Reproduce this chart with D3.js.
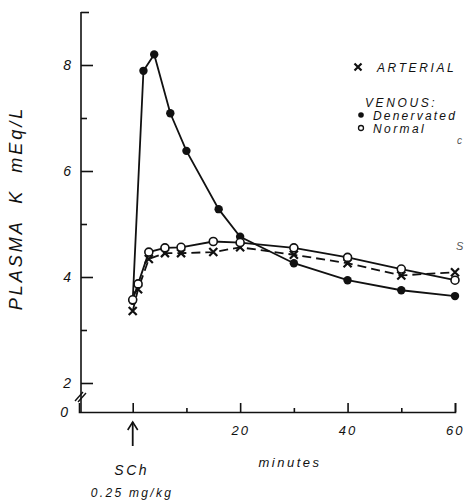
<!DOCTYPE html>
<html lang="en">
<head>
<meta charset="utf-8">
<title>Plasma K after SCh</title>
<script src="https://cdn.jsdelivr.net/npm/d3@7"></script>
<style>
  body { margin: 0; background: #fff; }
  svg text { font-family: "Liberation Sans", Arial, sans-serif; font-style: italic; fill: #111; white-space: pre; }
  .axis path, .axis line { stroke: #111; stroke-width: 1.6; }
</style>
</head>
<body>
<script>
// time (minutes) and plasma K (mEq/L)
var denervatedTime = [0, 2, 4, 7, 10, 16, 20, 30, 40, 50, 60]
var denervatedK    = [3.55, 7.89, 8.2, 7.09, 6.38, 5.28, 4.76, 4.26, 3.94, 3.75, 3.64]

var normalTime = [0, 1, 3, 6, 9, 15, 20, 30, 40, 50, 60]
var normalK    = [3.57, 3.87, 4.47, 4.55, 4.56, 4.67, 4.65, 4.55, 4.37, 4.15, 3.94]

var arterialTime = [0, 1, 3, 6, 9, 15, 20, 30, 40, 50, 60]
var arterialK    = [3.36, 3.77, 4.34, 4.45, 4.45, 4.47, 4.56, 4.42, 4.26, 4.03, 4.09]

var xTicks = [0, 10, 20, 30, 40, 50, 60]
var xLabels = [20, 40, 60]
var yTicks = [2, 3, 4, 5, 6, 7, 8, 9]
var yLabels = [2, 4, 6, 8]

var w = 465, h = 501
var svg = d3.select("body").append("svg").attr("width", w).attr("height", h)

// x starts at -10 so the axis corner sits left of the injection time
var x = d3.scaleLinear().domain([-10, 60]).range([79, 455])
// broken y axis: 0 -> 2 squeezed, 2 -> 9 linear
var y = d3.scaleLinear().domain([0, 2, 9]).range([412, 383, 12])

// x axis, ticks pointing up
var xAxis = svg.append("g").attr("class", "axis")
  .attr("transform", "translate(0," + y(0) + ")")
  .call(d3.axisBottom(x).tickValues(xTicks).tickSizeOuter(0).tickSize(-9).tickPadding(14)
    .tickFormat(function (d) { return xLabels.indexOf(d) >= 0 ? d : "" }))
xAxis.selectAll(".tick line").attr("y2", function (d) { return (d % 20 == 0) ? -9 : -4 })
xAxis.selectAll("text").style("font-size", "13px").style("letter-spacing", "2px")
xAxis.selectAll("text").filter(function (d) { return d == 60 }).attr("text-anchor", "end").attr("dx", "9")

// y axis, ticks pointing right
var yAxis = svg.append("g").attr("class", "axis")
  .attr("transform", "translate(81,0)")
  .call(d3.axisLeft(y).tickValues(yTicks).tickSizeOuter(0).tickSize(-12).tickPadding(10)
    .tickFormat(function (d) { return yLabels.indexOf(d) >= 0 ? d : "" }))
yAxis.selectAll(".tick line").attr("x2", function (d) {
  if (d == 9) return 8
  return (d % 2 == 0) ? 12 : 6
})
yAxis.selectAll("text").style("font-size", "14px")
yAxis.select(".domain").attr("d", "M0," + y(9) + "V" + y(0))

// "0" label and axis break marks
svg.append("text").attr("x", 68).attr("y", y(0) + 5).attr("text-anchor", "end")
  .style("font-size", "14px").text("0")
for (var k = 0; k < 2; k++) {
  svg.append("line")
    .attr("x1", 75 + k * 3).attr("y1", 401 + k)
    .attr("x2", 83 + k * 3).attr("y2", 392 + k)
    .attr("stroke", "#111").attr("stroke-width", 1.4)
}

// series
function pts(t, v) { return t.map(function (d, i) { return [d, v[i]] }) }
var line = d3.line().x(function (d) { return x(d[0]) }).y(function (d) { return y(d[1]) })

svg.append("path").datum(pts(arterialTime, arterialK)).attr("d", line)
  .attr("fill", "none").attr("stroke", "#111").attr("stroke-width", 1.8)
  .attr("stroke-dasharray", "9,5")
svg.append("path").datum(pts(denervatedTime, denervatedK)).attr("d", line)
  .attr("fill", "none").attr("stroke", "#111").attr("stroke-width", 1.8)
svg.append("path").datum(pts(normalTime, normalK)).attr("d", line)
  .attr("fill", "none").attr("stroke", "#111").attr("stroke-width", 1.8)

var cross = "M-4,-4L4,4M-4,4L4,-4"

svg.selectAll("path.art").data(pts(arterialTime, arterialK)).enter().append("path")
  .attr("class", "art").attr("d", cross)
  .attr("transform", function (d) { return "translate(" + x(d[0]) + "," + y(d[1]) + ")" })
  .attr("stroke", "#111").attr("stroke-width", 2.2)

svg.selectAll("circle.den").data(pts(denervatedTime, denervatedK)).enter().append("circle")
  .attr("class", "den").attr("cx", function (d) { return x(d[0]) })
  .attr("cy", function (d) { return y(d[1]) }).attr("r", 4.2).attr("fill", "#111")

svg.selectAll("circle.nor").data(pts(normalTime, normalK)).enter().append("circle")
  .attr("class", "nor").attr("cx", function (d) { return x(d[0]) })
  .attr("cy", function (d) { return y(d[1]) }).attr("r", 4)
  .attr("fill", "#fff").attr("stroke", "#111").attr("stroke-width", 1.6)

// legend
svg.append("path").attr("d", "M-3.5,-3.5L3.5,3.5M-3.5,3.5L3.5,-3.5")
  .attr("transform", "translate(358,67)").attr("stroke", "#111").attr("stroke-width", 2.2)
svg.append("text").attr("x", 377).attr("y", 72).style("font-size", "12px")
  .style("letter-spacing", "2.6px").text("ARTERIAL")
svg.append("text").attr("x", 365).attr("y", 107).style("font-size", "12px")
  .style("letter-spacing", "2.6px").text("VENOUS:")
svg.append("circle").attr("cx", 361).attr("cy", 115).attr("r", 2.8).attr("fill", "#111")
svg.append("text").attr("x", 373).attr("y", 120).style("font-size", "12px")
  .style("letter-spacing", "2.2px").text("Denervated")
svg.append("circle").attr("cx", 361).attr("cy", 128).attr("r", 2.5)
  .attr("fill", "#fff").attr("stroke", "#111").attr("stroke-width", 1.3)
svg.append("text").attr("x", 373).attr("y", 133).style("font-size", "12px")
  .style("letter-spacing", "2.4px").text("Normal")

// axis titles and injection marker
svg.append("text")
  .attr("transform", "translate(22,208) rotate(-90)")
  .attr("text-anchor", "middle").style("font-size", "18px").style("letter-spacing", "3px")
  .text("PLASMA  K  mEq/L")

svg.append("text").attr("x", 290).attr("y", 467).attr("text-anchor", "middle")
  .style("font-size", "13px").style("letter-spacing", "2.5px").text("minutes")

var ax = x(0)
svg.append("line").attr("x1", ax).attr("y1", 446).attr("x2", ax).attr("y2", 422)
  .attr("stroke", "#111").attr("stroke-width", 1.8)
svg.append("path").attr("d", "M" + (ax - 5) + ",430L" + ax + ",422L" + (ax + 5) + ",430")
  .attr("fill", "none").attr("stroke", "#111").attr("stroke-width", 1.6)
svg.append("text").attr("x", ax - 1).attr("y", 475).attr("text-anchor", "middle")
  .style("font-size", "14px").style("letter-spacing", "2.5px").text("SCh")
svg.append("text").attr("x", 132).attr("y", 497).attr("text-anchor", "middle")
  .style("font-size", "12px").style("letter-spacing", "2.3px").text("0.25 mg/kg")

// scraps from the facing page at the right edge
svg.append("text").attr("x", 457).attr("y", 144).style("font-size", "10px").style("fill", "#555").text("c")
svg.append("text").attr("x", 456).attr("y", 250).style("font-size", "11px").style("fill", "#555").text("S")
</script>
</body>
</html>
